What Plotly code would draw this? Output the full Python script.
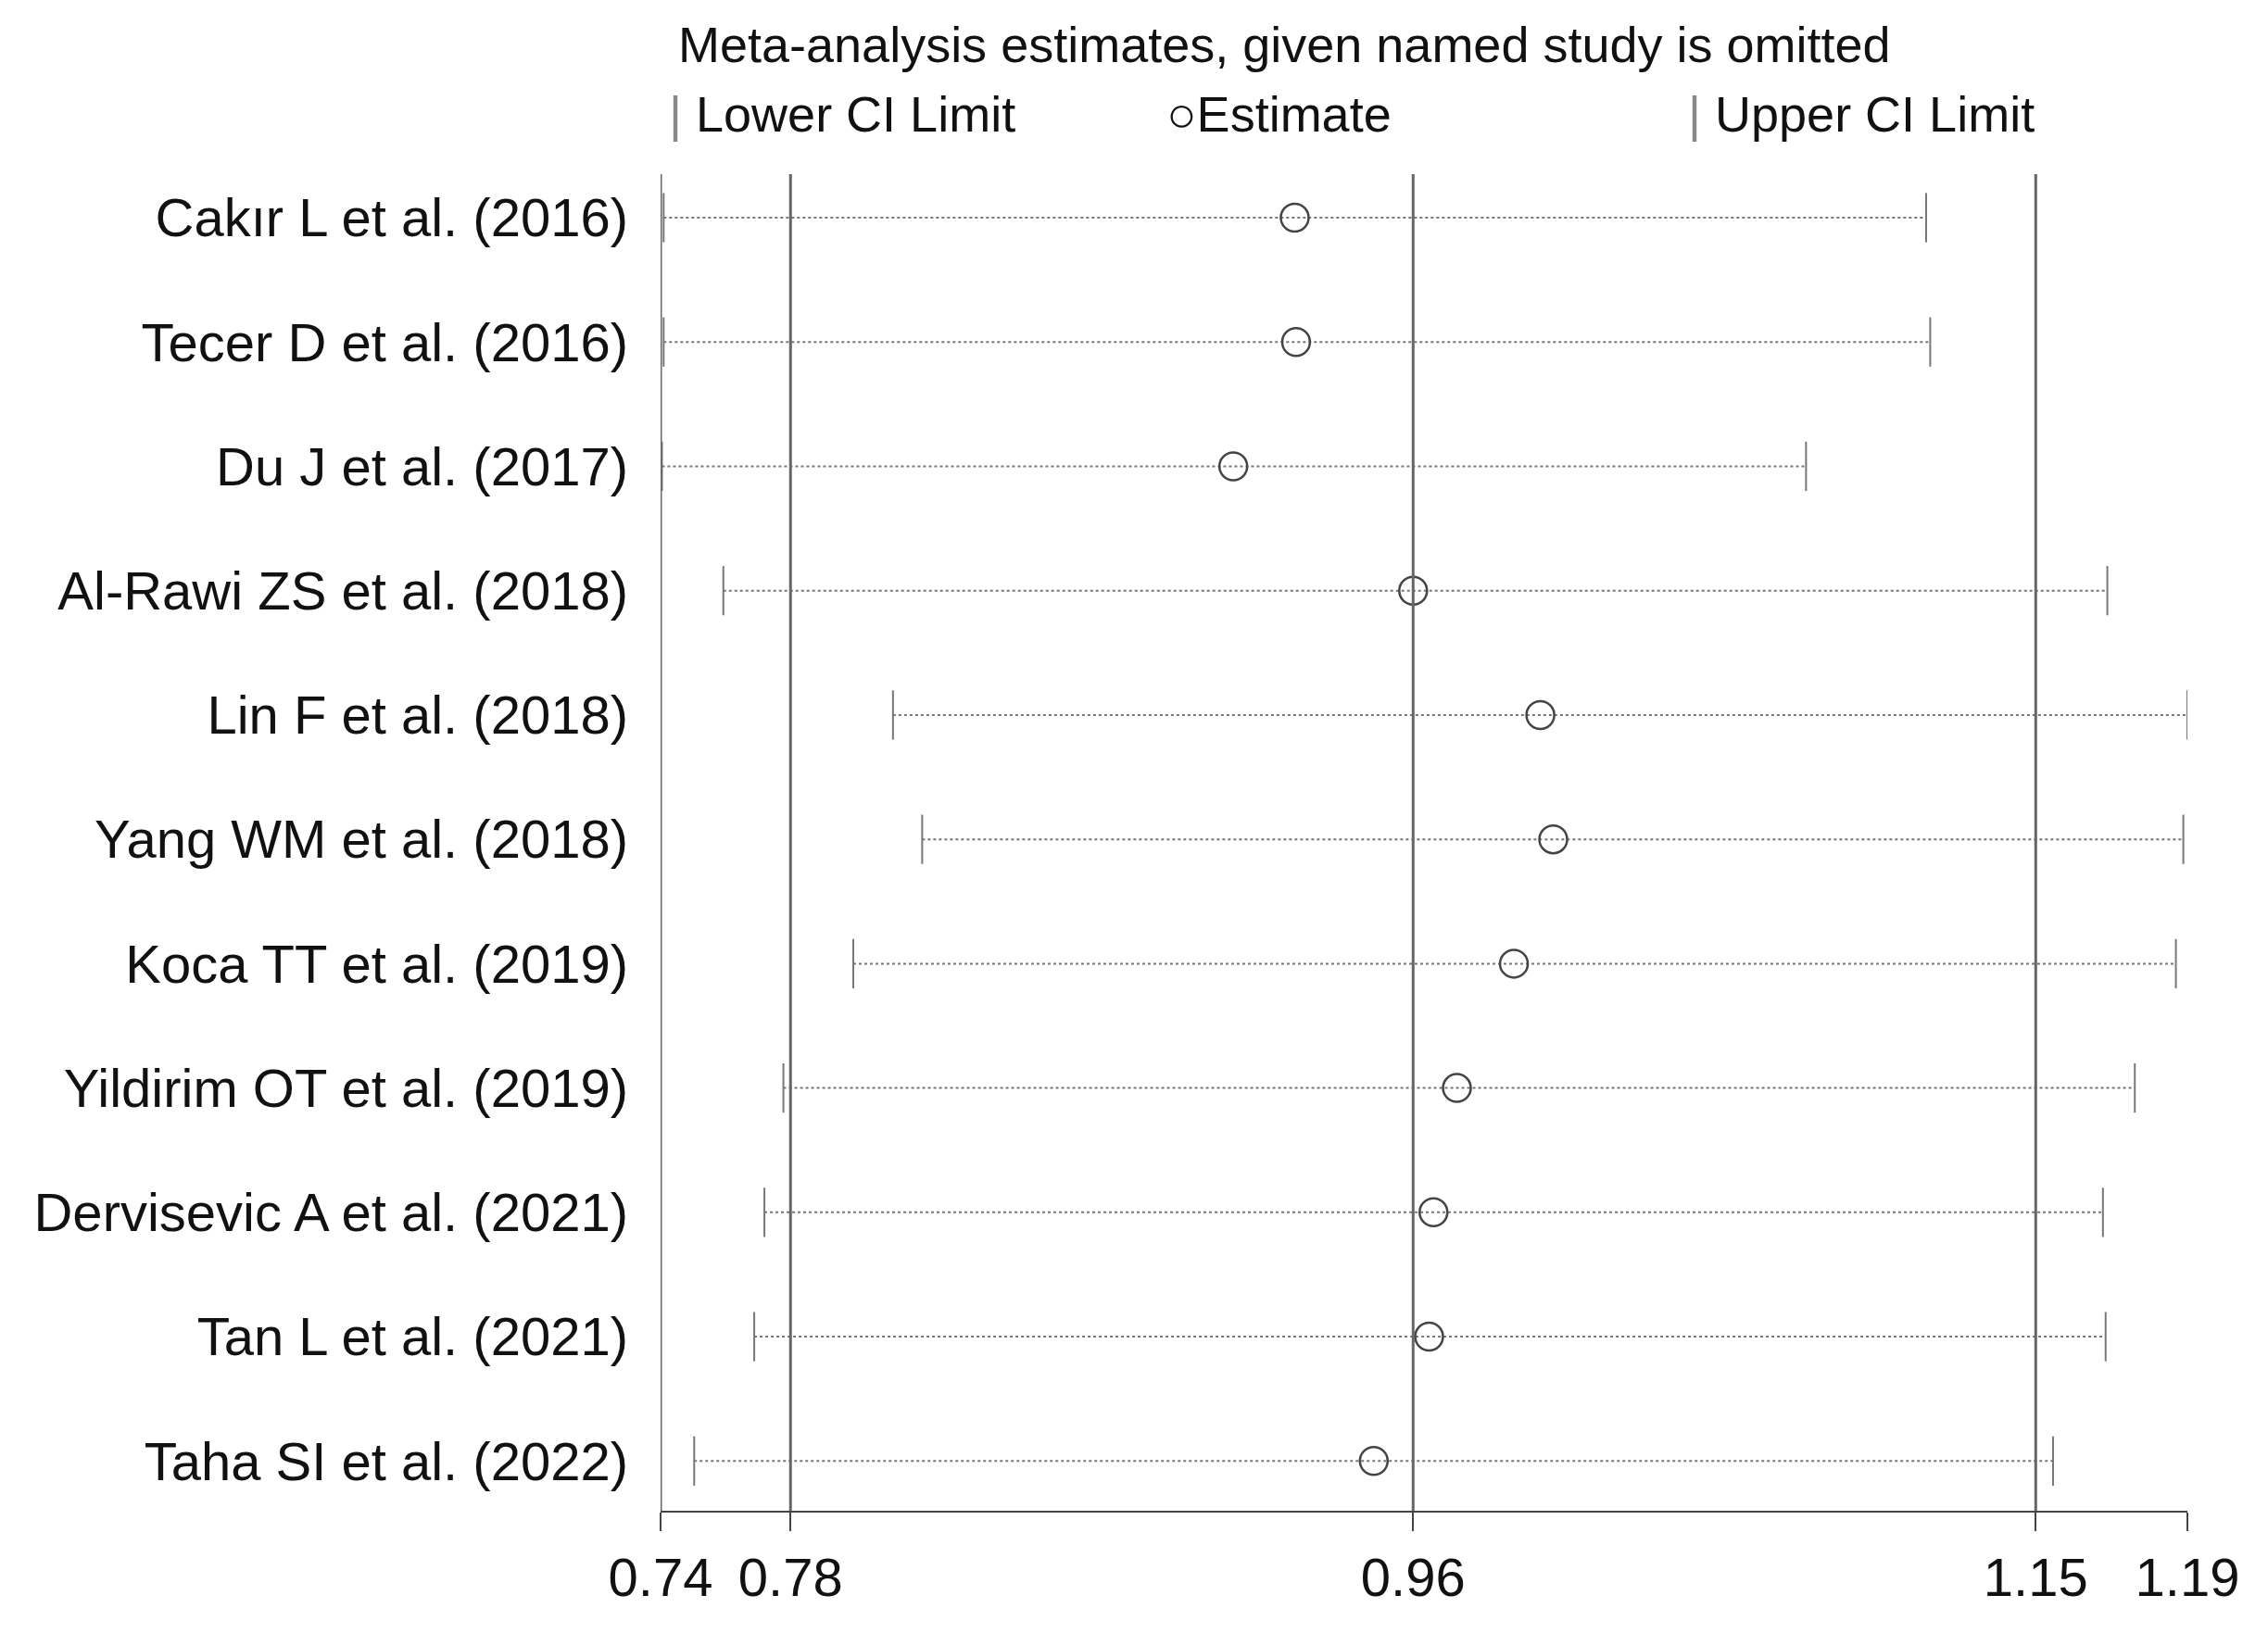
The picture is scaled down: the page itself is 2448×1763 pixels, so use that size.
import plotly.graph_objects as go

studies = ["Cakır L et al. (2016)", "Tecer D et al. (2016)", "Du J et al. (2017)",
           "Al-Rawi ZS et al. (2018)", "Lin F et al. (2018)", "Yang WM et al. (2018)",
           "Koca TT et al. (2019)", "Yildirim OT et al. (2019)", "Dervisevic A et al. (2021)",
           "Tan L et al. (2021)", "Taha SI et al. (2022)"]
lower = [0.7409, 0.7409, 0.7404, 0.7585, 0.8085, 0.8171, 0.7968, 0.7762, 0.7706, 0.7676, 0.7499]
estimate = [0.9269, 0.9273, 0.9088, 0.9618, 0.9993, 1.0031, 0.9915, 0.9747, 0.9678, 0.9665, 0.9502]
upper = [1.1130, 1.1142, 1.0776, 1.1664, 1.1900, 1.1888, 1.1866, 1.1745, 1.1651, 1.1659, 1.1504]
tick_vals = [0.7400, 0.7783, 0.9618, 1.1453, 1.1900]
tick_text = ["0.74", "0.78", "0.96", "1.15", "1.19"]

FONT = "Liberation Sans, Arial, sans-serif"
fig = go.Figure()
rows = list(range(1, len(studies) + 1))
for i, r in enumerate(rows):
    fig.add_trace(go.Scatter(x=[lower[i], upper[i]], y=[r, r], mode="lines+markers",
                             line=dict(color="#777", width=2, dash="dot"),
                             marker=dict(symbol="line-ns-open", size=38,
                                         line=dict(color="#666", width=2)),
                             showlegend=False, hoverinfo="skip"))
fig.add_trace(go.Scatter(x=estimate, y=rows, mode="markers",
                         marker=dict(symbol="circle-open", size=30, color="#444",
                                     line=dict(width=2.5)),
                         showlegend=False))
for v in tick_vals[:4]:
    fig.add_shape(type="line", x0=v, x1=v, y0=0, y1=1, yref="paper",
                  line=dict(color="#666", width=3))

anns = [
    dict(text="Meta-analysis estimates, given named study is omitted", x=0.0105, y=1.097),
    dict(text="<span style='color:#888'>|</span> Lower CI Limit", x=0.004, y=1.045),
    dict(text="○Estimate", x=0.33, y=1.045),
    dict(text="<span style='color:#888'>|</span> Upper CI Limit", x=0.672, y=1.045),
]
for a in anns:
    fig.add_annotation(xref="paper", yref="paper", xanchor="left", yanchor="middle",
                       showarrow=False, font=dict(size=54, color="#111", family=FONT), **a)

fig.update_layout(
    width=2448, height=1763, plot_bgcolor="white", paper_bgcolor="white",
    margin=dict(l=705, r=95, t=180, b=140),
    font=dict(family=FONT, color="#111"),
    xaxis=dict(range=[0.74, 1.19], tickvals=tick_vals, ticktext=tick_text,
               showgrid=False, zeroline=False, showline=True, linecolor="#444",
               linewidth=2, ticks="outside", ticklen=20, tickwidth=2, tickcolor="#444",
               tickfont=dict(size=58)),
    yaxis=dict(range=[11.4, 0.65], tickvals=rows, ticktext=studies, showgrid=False,
               zeroline=False, showline=False, ticks="", tickfont=dict(size=58),
               ticklabelstandoff=34),
)
fig.write_html("out.html")
